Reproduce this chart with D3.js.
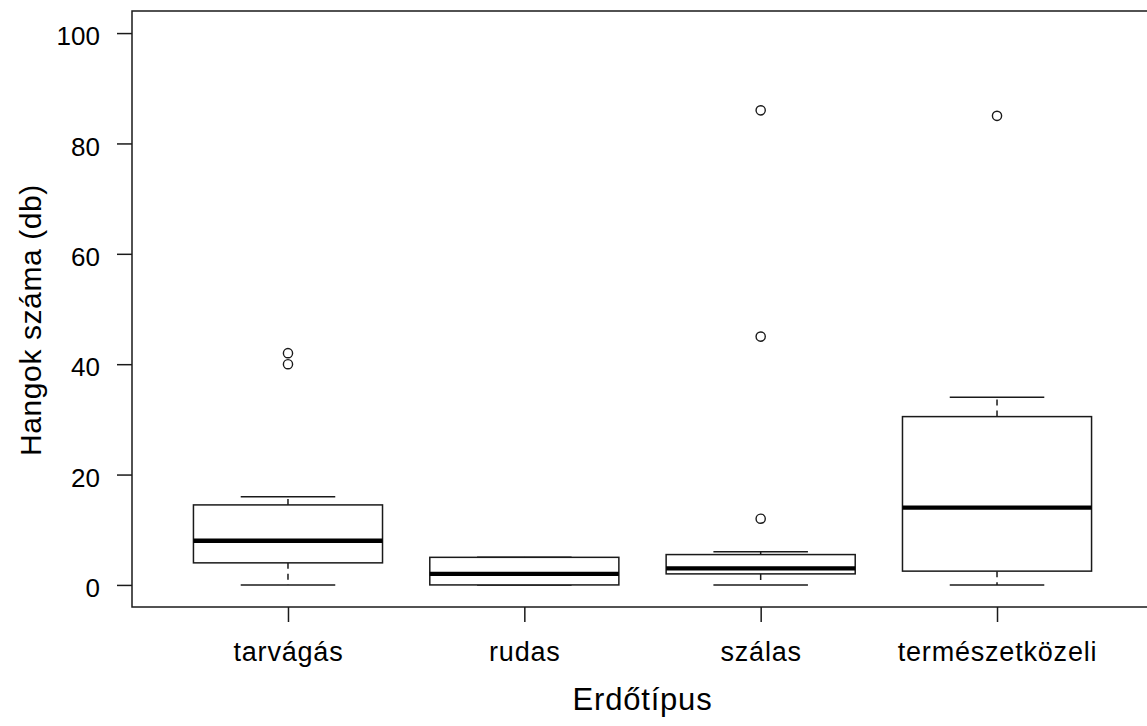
<!DOCTYPE html>
<html>
<head>
<meta charset="utf-8">
<script src="https://cdn.jsdelivr.net/npm/d3@7"></script>
<style>
  html, body { margin: 0; padding: 0; background: #fff; }
  svg { display: block; font-family: "Liberation Sans", Arial, sans-serif; }
</style>
</head>
<body>
<svg id="chart" width="1147" height="726"></svg>
<script>
// Forest types and boxplot statistics (number of calls per plot)
const categories = ["tarvágás", "rudas", "szálas", "természetközeli"];
const lowerWhisker = [0, 0, 0, 0];
const q1 = [4, 0, 2, 2.5];
const medians = [8, 2, 3, 14];
const q3 = [14.5, 5, 5.5, 30.5];
const upperWhisker = [16, 5, 6, 34];
const outliers = [[40, 42], [], [12, 45, 86], [85]];
const yTicks = [0, 20, 40, 60, 80, 100];

const svg = d3.select("#chart");

// Plot region (right edge runs past the canvas)
const plotLeft = 132, plotTop = 11, plotBottom = 607, plotRight = 1153;

const x = d3.scaleLinear().domain([0.34, 4.66]).range([plotLeft, plotRight]);
const y = d3.scaleLinear().domain([-4, 104]).range([plotBottom, plotTop]);

const boxWex = 0.8;
const lw = 1.5;
const ink = "#1a1a1a";

// Frame
svg.append("rect")
  .attr("x", plotLeft).attr("y", plotTop)
  .attr("width", plotRight - plotLeft).attr("height", plotBottom - plotTop)
  .attr("fill", "none").attr("stroke", ink).attr("stroke-width", lw);

// Y axis
const yAxis = d3.axisLeft(y).tickValues(yTicks).tickSize(15).tickPadding(17).tickFormat(d3.format("d"));
const gy = svg.append("g").attr("transform", `translate(${plotLeft},0)`).call(yAxis);
gy.select(".domain").remove();
gy.selectAll(".tick line").attr("stroke", ink).attr("stroke-width", lw);
gy.selectAll(".tick text")
  .attr("fill", "#000")
  .style("font-size", "26px")
  .style("font-family", "Liberation Sans, Arial, sans-serif")
  .attr("dy", "0.45em");

// X axis
const xAxis = d3.axisBottom(x).tickValues([1, 2, 3, 4]).tickSize(15).tickPadding(20)
  .tickFormat((d, i) => categories[i]);
const gx = svg.append("g").attr("transform", `translate(0,${plotBottom})`).call(xAxis);
gx.select(".domain").remove();
gx.selectAll(".tick line").attr("stroke", ink).attr("stroke-width", lw);
gx.selectAll(".tick text")
  .attr("fill", "#000")
  .style("font-size", "27px")
  .style("letter-spacing", "0.8px")
  .style("font-family", "Liberation Sans, Arial, sans-serif");

// Axis titles
svg.append("text")
  .attr("x", x(2.5)).attr("y", 710)
  .attr("text-anchor", "middle")
  .style("font-size", "31px")
  .style("letter-spacing", "0.8px")
  .text("Erdőtípus");

svg.append("text")
  .attr("transform", `translate(41,${y(48)}) rotate(-90)`)
  .attr("text-anchor", "middle")
  .style("font-size", "30px")
  .style("letter-spacing", "0.6px")
  .text("Hangok száma (db)");

// Boxes
const boxes = svg.append("g");
categories.forEach((c, i) => {
  const cx = i + 1;
  const g = boxes.append("g");
  // whiskers (dashed)
  g.append("line")
    .attr("x1", x(cx)).attr("x2", x(cx))
    .attr("y1", y(q3[i])).attr("y2", y(upperWhisker[i]))
    .attr("stroke", ink).attr("stroke-width", lw).attr("stroke-dasharray", "6,5");
  g.append("line")
    .attr("x1", x(cx)).attr("x2", x(cx))
    .attr("y1", y(q1[i])).attr("y2", y(lowerWhisker[i]))
    .attr("stroke", ink).attr("stroke-width", lw).attr("stroke-dasharray", "6,5");
  // staples
  [upperWhisker[i], lowerWhisker[i]].forEach(v => {
    g.append("line")
      .attr("x1", x(cx - boxWex / 4)).attr("x2", x(cx + boxWex / 4))
      .attr("y1", y(v)).attr("y2", y(v))
      .attr("stroke", ink).attr("stroke-width", lw);
  });
  // box
  g.append("rect")
    .attr("x", x(cx - boxWex / 2)).attr("width", x(cx + boxWex / 2) - x(cx - boxWex / 2))
    .attr("y", y(q3[i])).attr("height", y(q1[i]) - y(q3[i]))
    .attr("fill", "#fff").attr("stroke", ink).attr("stroke-width", lw);
  // median
  g.append("line")
    .attr("x1", x(cx - boxWex / 2)).attr("x2", x(cx + boxWex / 2))
    .attr("y1", y(medians[i])).attr("y2", y(medians[i]))
    .attr("stroke", "#000").attr("stroke-width", 4.4);
  // outliers
  g.selectAll("circle").data(outliers[i]).join("circle")
    .attr("cx", x(cx)).attr("cy", d => y(d)).attr("r", 4.6)
    .attr("fill", "none").attr("stroke", ink).attr("stroke-width", 1.4);
});
</script>
</body>
</html>
